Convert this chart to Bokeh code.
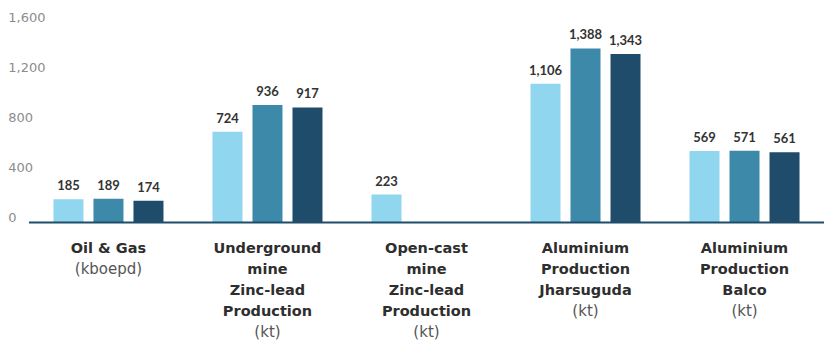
import math
from bokeh.plotting import figure
from bokeh.models import ColumnDataSource, LabelSet, Range1d
from bokeh.core.properties import value
from bokeh.embed import file_html
from bokeh.resources import INLINE

# ---- data ----
category_lines = [
    ["Oil & Gas"],
    ["Underground", "mine", "Zinc-lead", "Production"],
    ["Open-cast", "mine", "Zinc-lead", "Production"],
    ["Aluminium", "Production", "Jharsuguda"],
    ["Aluminium", "Production", "Balco"],
]
category_units = ["(kboepd)", "(kt)", "(kt)", "(kt)", "(kt)"]
series_1 = [185, 724, 223, 1106, 569]
series_2 = [189, 936, None, 1388, 571]
series_3 = [174, 917, None, 1343, 561]
series_colors = ["#8fd6ee", "#3d89a9", "#1f4c6b"]
y_ticks = [0, 400, 800, 1200, 1600]
y_tick_labels = ["0", "400", "800", "1,200", "1,600"]

# ---- layout ----
STEP = 40 / 159
BAR_W = 30 / 159
offsets = [-STEP, 0, STEP]

p = figure(width=831, height=341, output_backend="svg", toolbar_location=None,
           x_range=Range1d(-0.679, 4.547), y_range=Range1d(-949, 1770),
           x_axis_type=None, y_axis_type=None, min_border=0,
           min_border_left=0, min_border_right=0, min_border_top=0, min_border_bottom=0)
p.grid.visible = False
p.outline_line_color = None
p.background_fill_color = "white"
p.border_fill_color = "white"

lab_x, lab_y, lab_t = [], [], []
for vals, off, col in zip([series_1, series_2, series_3], offsets, series_colors):
    xs = [i + off for i, v in enumerate(vals) if v is not None]
    ys = [v for v in vals if v is not None]
    p.vbar(x=xs, top=ys, bottom=0, width=BAR_W, fill_color=col, line_color=None)
    lab_x += xs
    lab_y += ys
    lab_t += [f"{v:,}" for v in ys]

vsrc = ColumnDataSource(dict(x=lab_x, y=lab_y, t=lab_t))
p.add_layout(LabelSet(x="x", y="y", text="t", source=vsrc, y_offset=9,
                      text_align="center", text_baseline="bottom",
                      text_font=value("Lato"), text_font_style="bold",
                      text_font_size="13px", text_color="#333333"))

# baseline
p.segment(x0=[-0.5], y0=[0], x1=[len(series_1) - 0.5], y1=[0],
          line_color="#1f4c6b", line_width=2)

# y tick labels
p.text(x=[-0.63] * len(y_ticks), y=y_ticks, text=y_tick_labels,
       text_align="left", text_baseline="bottom",
       text_font=value("DejaVu Sans"), text_font_size="13px", text_color="#8c8c8c")

# category labels
bx, bt, bo = [], [], []
ux, ut, uo = [], [], []
for i, (lines, unit) in enumerate(zip(category_lines, category_units)):
    for k, line in enumerate(lines):
        bx.append(i); bt.append(line); bo.append(-(26 + 21 * k))
    ux.append(i); ut.append(unit); uo.append(-(26 + 21 * len(lines)))

bsrc = ColumnDataSource(dict(x=bx, y=[0] * len(bx), t=bt, o=bo))
usrc = ColumnDataSource(dict(x=ux, y=[0] * len(ux), t=ut, o=uo))
p.add_layout(LabelSet(x="x", y="y", text="t", source=bsrc, y_offset="o",
                      text_align="center", text_baseline="middle",
                      text_font=value("DejaVu Sans"), text_font_style="bold",
                      text_font_size="14.5px", text_color="#2e2e2e"))
p.add_layout(LabelSet(x="x", y="y", text="t", source=usrc, y_offset="o",
                      text_align="center", text_baseline="middle",
                      text_font=value("DejaVu Sans"),
                      text_font_size="15px", text_color="#555555"))

open("out.html", "w").write(file_html(p, INLINE))
